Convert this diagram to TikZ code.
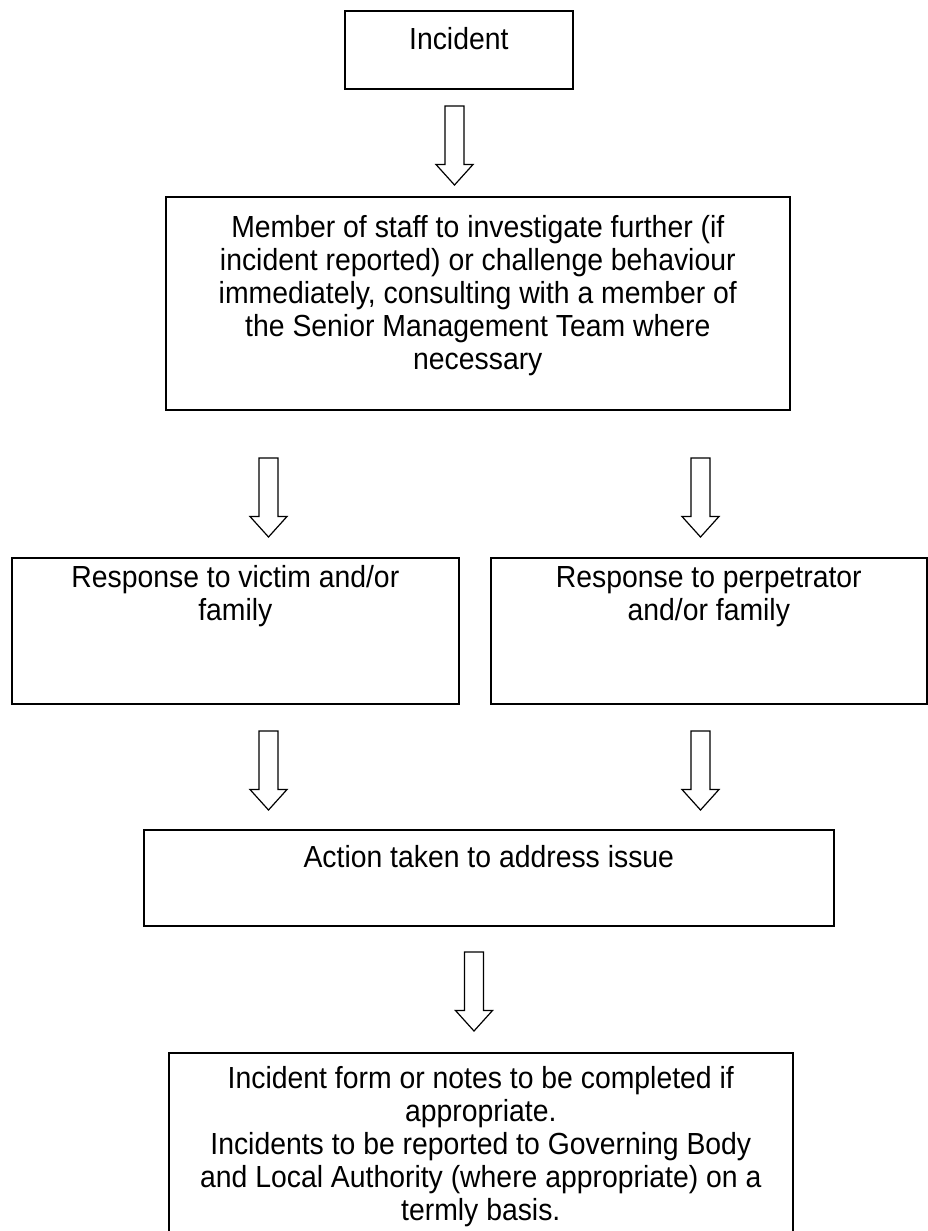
\documentclass[tikz,border=0pt]{standalone}
\usepackage{fontspec}
\setmainfont{Liberation Sans}[FakeStretch=0.93]
\tikzset{
  x=1pt, y=1pt,
  box/.style={draw=black, line width=1.6pt, inner sep=0pt},
  txt/.style={inner sep=0pt, anchor=base, font=\fontsize{30.5}{33}\selectfont},
  arrowline/.style={draw=black, line width=1.2pt, line join=miter},
  blockarrow/.pic={\draw[arrowline] (-9.5,0) -- (-9.5,-58.5) -- (-18.5,-58.5) -- (0,-79) -- (18.5,-58.5) -- (9.5,-58.5) -- (9.5,0) -- cycle;}
}
\newcommand{\mlines}[1]{\begin{tabular}[t]{@{}c@{}}#1\end{tabular}}
\begin{document}
\begin{tikzpicture}
\useasboundingbox (0,0) rectangle (928,-1231);
\clip (0,0) rectangle (928,-1231);
\fill[white] (0,0) rectangle (928,-1231);

% boxes
\node[box, anchor=north west, minimum width=228, minimum height=78] (incident) at (344,-10) {};
\node[box, anchor=north west, minimum width=624, minimum height=213] (staff) at (165,-196) {};
\node[box, anchor=north west, minimum width=447, minimum height=146] (victim) at (11,-557) {};
\node[box, anchor=north west, minimum width=436, minimum height=146] (perp) at (490,-557) {};
\node[box, anchor=north west, minimum width=690, minimum height=96] (action) at (143,-829) {};
\node[box, anchor=north west, minimum width=624, minimum height=240] (form) at (168,-1052) {};

% texts
\node[txt] (tincident) at (incident.center |- 0,-50) {Incident};
\node[txt] (tstaff) at (staff.center |- 0,-237) {\mlines{Member of staff to investigate further (if\\incident reported) or challenge behaviour\\immediately, consulting with a member of\\the Senior Management Team where\\necessary}};
\node[txt] (tvictim) at (victim.center |- 0,-587) {\mlines{Response to victim and/or\\family}};
\node[txt] (tperp) at (perp.center |- 0,-587) {\mlines{Response to perpetrator\\and/or family}};
\node[txt] (taction) at (action.center |- 0,-867) {Action taken to address issue};
\node[txt] (tform) at (form.center |- 0,-1088) {\mlines{Incident form or notes to be completed if\\appropriate.\\Incidents to be reported to Governing Body\\and Local Authority (where appropriate) on a\\termly basis.}};

% block arrows
\coordinate (a1) at (454.5,-106);
\coordinate (a2l) at (268.5,-458);
\coordinate (a2r) at (700.5,-458);
\coordinate (a3l) at (268.5,-731);
\coordinate (a3r) at (700.5,-731);
\coordinate (a4) at (474,-952);
\pic at (a1) {blockarrow};
\pic at (a2l) {blockarrow};
\pic at (a2r) {blockarrow};
\pic at (a3l) {blockarrow};
\pic at (a3r) {blockarrow};
\pic at (a4) {blockarrow};
\end{tikzpicture}
\end{document}
